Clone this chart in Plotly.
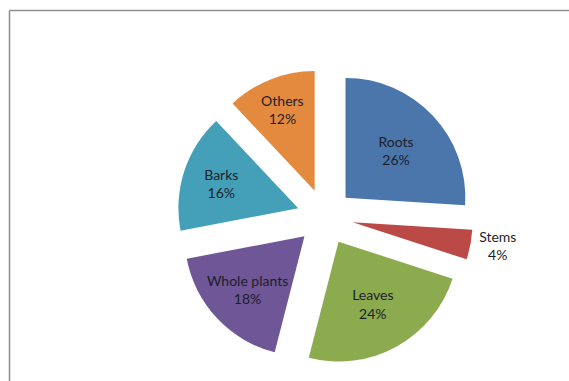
import plotly.graph_objects as go

categories = ["Roots", "Stems", "Leaves", "Whole plants", "Barks", "Others"]
values = [26, 4, 24, 18, 16, 12]
colors = ["#4A76AC", "#BB4A47", "#8CAA4E", "#6E5697", "#44A0B8", "#E38A3E"]
text_positions = ["inside", "outside", "inside", "inside", "inside", "inside"]

W, H = 569, 381
cx, cy, half = 325, 217, 148

fig = go.Figure(go.Pie(
    labels=categories,
    values=values,
    sort=False,
    direction="clockwise",
    rotation=0,
    pull=0.235,
    automargin=False,
    marker=dict(colors=colors, line=dict(width=0)),
    texttemplate="%{label}<br>%{percent:.0%}",
    textposition=text_positions,
    insidetextorientation="horizontal",
    textfont=dict(family="Lato, Open Sans, sans-serif", size=14, color="#1E1E28"),
    showlegend=False,
    hoverinfo="label+percent",
    domain=dict(x=[(cx - half) / W, (cx + half) / W],
                y=[1 - (cy + half) / H, 1 - (cy - half) / H]),
))

fx, fy = 9.5 / W, 1 - 10.5 / H
fig.update_layout(
    width=W, height=H,
    margin=dict(l=0, r=0, t=0, b=0, pad=0, autoexpand=False),
    paper_bgcolor="white",
    plot_bgcolor="white",
    uniformtext=dict(minsize=14, mode="show"),
    shapes=[
        dict(type="line", xref="paper", yref="paper", x0=fx, x1=1.05, y0=fy, y1=fy,
             line=dict(color="#8E8E8E", width=1.5)),
        dict(type="line", xref="paper", yref="paper", x0=fx, x1=fx, y0=-0.05, y1=fy,
             line=dict(color="#8E8E8E", width=1.5)),
    ],
)

fig.write_html("out.html", config={"displayModeBar": False},
               post_script="document.body.style.margin='0';document.body.style.overflow='hidden';")
